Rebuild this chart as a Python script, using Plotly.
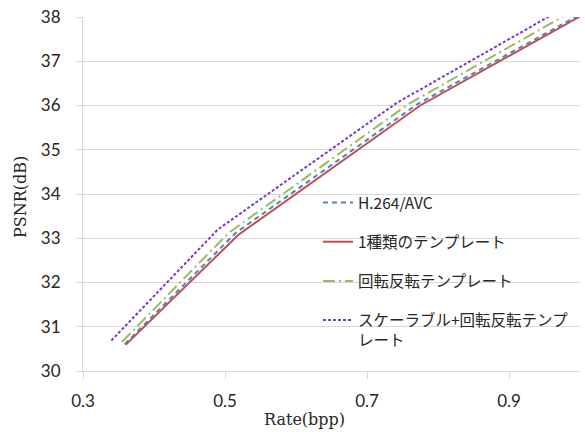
import plotly.graph_objects as go

# Data
rate_avc = [0.359, 0.515, 0.770, 1.050]
psnr_avc = [30.61, 33.12, 36.02, 38.50]

rate_one = [0.360, 0.519, 0.775, 1.050]
psnr_one = [30.59, 33.08, 36.00, 38.46]

rate_rot = [0.355, 0.505, 0.758, 1.030]
psnr_rot = [30.66, 33.12, 36.03, 38.50]

rate_scal = [0.340, 0.490, 0.742, 1.010]
psnr_scal = [30.69, 33.20, 36.06, 38.50]

names = ["H.264/AVC", "1種類のテンプレート", "回転反転テンプレート",
         "スケーラブル+回転反転テンプ<br>レート"]
x_ticks = [0.3, 0.5, 0.7, 0.9]
x_tick_text = ["0.3", "0.5", "0.7", "0.9"]
y_ticks = [30, 31, 32, 33, 34, 35, 36, 37, 38]

W, H = 585, 432
ml, mr, mt, mb = 83, 5, 17, 61
pw, ph = W - ml - mr, H - mt - mb

def px_x(p):
    return (p - ml) / pw

def px_y(p):
    return (H - mb - p) / ph

fig = go.Figure()
styles = [
    dict(color="#4F81BD", width=2, dash="5px,4px"),
    dict(color="#C0504D", width=2, dash="solid"),
    dict(color="#9BBB59", width=2, dash="12px,4px,2px,4px"),
    dict(color="#7A3DBE", width=2, dash="3px,2px"),
]
series = [(rate_avc, psnr_avc), (rate_one, psnr_one), (rate_rot, psnr_rot), (rate_scal, psnr_scal)]
for i, ((xs, ys), nm, st) in enumerate(zip(series, names, styles)):
    fig.add_trace(go.Scatter(x=xs, y=ys, mode="lines", name=nm, line=st,
                             legendgroup=f"g{i}"))

tick_font = dict(family="Lato", size=17, color="#262626")
fig.update_layout(
    width=W, height=H,
    margin=dict(l=ml, r=mr, t=mt, b=mb, autoexpand=False),
    paper_bgcolor="white", plot_bgcolor="white",
    showlegend=True,
    legend=dict(x=px_x(318), y=px_y(186), xanchor="left", yanchor="top",
                font=dict(family="Noto Sans CJK JP", size=15.5, color="#262626"),
                bgcolor="rgba(0,0,0,0)", tracegroupgap=16, valign="top",
                traceorder="grouped"),
    xaxis=dict(range=[0.3, 1.0], tickvals=x_ticks, ticktext=x_tick_text,
               showgrid=False, zeroline=False, showline=True, linecolor="#D9D9D9",
               linewidth=1, ticks="outside", ticklen=7, tickcolor="#D9D9D9",
               tickfont=tick_font, ticklabelstandoff=8, automargin=False),
    yaxis=dict(range=[30, 38], tickvals=y_ticks, showgrid=True, gridcolor="#D9D9D9",
               zeroline=False, showline=True, linecolor="#D9D9D9", linewidth=1,
               ticks="outside", ticklen=6, tickcolor="#D9D9D9",
               tickfont=tick_font, ticklabelstandoff=12, automargin=False),
    annotations=[
        dict(text="Rate(bpp)", xref="paper", yref="paper", x=px_x(304), y=px_y(419),
             xanchor="center", yanchor="middle", showarrow=False,
             font=dict(family="DejaVu Serif", size=16, color="#262626")),
        dict(text="PSNR(dB)", xref="paper", yref="paper", x=px_x(20), y=px_y(197),
             xanchor="center", yanchor="middle", showarrow=False, textangle=-90,
             font=dict(family="DejaVu Serif", size=16, color="#262626")),
    ],
)

fig.write_html("out.html", config={"displayModeBar": False},
               post_script="document.body.style.margin='0px';")
